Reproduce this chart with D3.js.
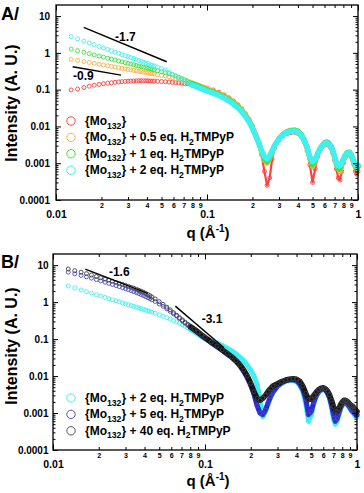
<!DOCTYPE html>
<html>
<head>
<meta charset="utf-8">
<script src="https://cdn.jsdelivr.net/npm/d3@7"></script>
<style>
body { margin: 0; background: #fff; }
text { font-family: "Liberation Sans", Arial, Helvetica, sans-serif; font-weight: bold; }
</style>
</head>
<body>
<div id="chart"></div>
<script>
var width = 364;
var height = 493;

// q grid (1/A), same for both panels
var q = [0.0126, 0.0139, 0.0153, 0.0166, 0.0179, 0.0193, 0.0206, 0.0220, 0.0233, 0.0246,
  0.0260, 0.0273, 0.0287, 0.0300, 0.0313, 0.0327, 0.0340, 0.0354, 0.0367, 0.0380,
  0.0394, 0.0407, 0.0421, 0.0434, 0.0447,
  0.047, 0.050, 0.053, 0.056, 0.059, 0.062, 0.065, 0.068, 0.071, 0.074, 0.077, 0.080,
  0.085, 0.090, 0.095,
  0.10, 0.11, 0.12, 0.13, 0.14, 0.15, 0.16, 0.17, 0.18, 0.19, 0.20, 0.21, 0.22, 0.23, 0.24, 0.25, 0.26, 0.27, 0.28,
  0.30, 0.32, 0.34, 0.36, 0.38, 0.40, 0.42, 0.44, 0.46, 0.48, 0.50, 0.52, 0.54, 0.56, 0.58, 0.60,
  0.62, 0.64, 0.66, 0.68, 0.70, 0.72, 0.74, 0.76, 0.78, 0.80, 0.82, 0.84, 0.86, 0.88, 0.90,
  0.92, 0.94, 0.96, 0.98, 1.00];

// panel A
var mo132 = [0.098, 0.104, 0.114, 0.124, 0.132, 0.139, 0.145, 0.150, 0.154, 0.158,
  0.162, 0.165, 0.167, 0.169, 0.171, 0.172, 0.173, 0.174, 0.174, 0.174,
  0.174, 0.173, 0.172, 0.171, 0.170,
  0.168, 0.166, 0.164, 0.161, 0.158, 0.155, 0.152, 0.150, 0.148, 0.146, 0.143, 0.139,
  0.132, 0.124, 0.117,
  0.110, 0.098, 0.085, 0.072, 0.060, 0.049, 0.039, 0.030, 0.022, 0.0156, 0.0103, 0.0062, 0.0037, 0.0017, 0.0006, 0.00025, 0.0004, 0.0013, 0.0026,
  0.0043, 0.0056, 0.0064, 0.0068, 0.0069, 0.0064, 0.0053, 0.0038, 0.0022, 0.0009, 0.0003, 0.0007, 0.0015, 0.0022, 0.0028, 0.0031,
  0.0033, 0.0031, 0.0026, 0.0019, 0.0012, 0.0007, 0.0004, 0.00035, 0.0006, 0.0010, 0.0014, 0.0016, 0.0017, 0.0017, 0.0015,
  0.0012, 0.0009, 0.0006, 0.0005, 0.0006];
var mo132Half = [0.670, 0.623, 0.581, 0.548, 0.519, 0.491, 0.468, 0.446, 0.428, 0.411,
  0.395, 0.381, 0.367, 0.356, 0.345, 0.334, 0.325, 0.315, 0.307, 0.299,
  0.292, 0.285, 0.278, 0.272, 0.266,
  0.256, 0.245, 0.235, 0.224, 0.213, 0.202, 0.192, 0.182, 0.172, 0.163, 0.155, 0.147,
  0.135, 0.124, 0.114,
  0.105, 0.092, 0.080, 0.068, 0.057, 0.046, 0.037, 0.028, 0.021, 0.0147, 0.0097, 0.0060, 0.0037, 0.0020, 0.0012, 0.0010, 0.0013, 0.0020, 0.0029,
  0.0045, 0.0059, 0.0068, 0.0073, 0.0074, 0.0069, 0.0057, 0.0041, 0.0026, 0.0013, 0.0008, 0.0011, 0.0017, 0.0023, 0.0029, 0.0033,
  0.0035, 0.0033, 0.0028, 0.0021, 0.0014, 0.0009, 0.0007, 0.0006, 0.0009, 0.0012, 0.0015, 0.0017, 0.0018, 0.0018, 0.0016,
  0.0013, 0.0010, 0.0008, 0.0007, 0.0008];
var mo132One = [1.27, 1.146, 1.038, 0.954, 0.883, 0.817, 0.764, 0.714, 0.673, 0.637,
  0.601, 0.572, 0.543, 0.519, 0.497, 0.475, 0.456, 0.438, 0.421, 0.407,
  0.392, 0.379, 0.366, 0.355, 0.344,
  0.327, 0.306, 0.289, 0.272, 0.254, 0.236, 0.218, 0.202, 0.187, 0.173, 0.161, 0.150,
  0.134, 0.121, 0.108,
  0.099, 0.087, 0.075, 0.064, 0.053, 0.043, 0.0345, 0.0265, 0.0196, 0.0138, 0.0091, 0.0057, 0.0036, 0.0021, 0.0013, 0.0011, 0.0014, 0.0021, 0.0030,
  0.0047, 0.0063, 0.0073, 0.0079, 0.0080, 0.0075, 0.0062, 0.0044, 0.0027, 0.0014, 0.0009, 0.0012, 0.0018, 0.0025, 0.0031, 0.0036,
  0.0038, 0.0036, 0.0030, 0.0023, 0.0015, 0.0010, 0.0007, 0.0007, 0.0010, 0.0013, 0.0016, 0.0019, 0.0020, 0.0020, 0.0018,
  0.0014, 0.0011, 0.0009, 0.0007, 0.0008];
var mo132Two = [2.77, 2.40, 2.09, 1.86, 1.67, 1.49, 1.36, 1.24, 1.14, 1.05,
  0.97, 0.90, 0.84, 0.79, 0.74, 0.70, 0.66, 0.62, 0.59, 0.56,
  0.53, 0.51, 0.48, 0.46, 0.44,
  0.41, 0.374, 0.34, 0.30, 0.265, 0.234, 0.207, 0.186, 0.168, 0.155, 0.144, 0.133,
  0.121, 0.110, 0.100,
  0.092, 0.080, 0.069, 0.059, 0.049, 0.040, 0.032, 0.025, 0.0185, 0.0132, 0.0089, 0.0056, 0.0036, 0.0022, 0.0015, 0.0013, 0.0016, 0.0022, 0.0030,
  0.0046, 0.0060, 0.0069, 0.0074, 0.0075, 0.0070, 0.0058, 0.0042, 0.0027, 0.0015, 0.0011, 0.0013, 0.0018, 0.0024, 0.0030, 0.0034,
  0.0036, 0.0034, 0.0029, 0.0022, 0.0015, 0.0010, 0.00085, 0.00085, 0.0010, 0.0013, 0.0016, 0.0018, 0.0019, 0.0019, 0.0017,
  0.0014, 0.0011, 0.0009, 0.0008, 0.0009];

// panel B
var mo132TwoB = [2.73, 2.41, 2.13, 1.92, 1.74, 1.58, 1.455, 1.34, 1.245, 1.16,
  1.08, 1.015, 0.952, 0.90, 0.852, 0.806, 0.766, 0.728, 0.695, 0.665,
  0.635, 0.609, 0.582, 0.557, 0.535,
  0.498, 0.454, 0.414, 0.378, 0.347, 0.318, 0.292, 0.267, 0.244, 0.223, 0.203, 0.185,
  0.158, 0.136, 0.117,
  0.102, 0.087, 0.078, 0.066, 0.056, 0.048, 0.040, 0.032, 0.026, 0.0195, 0.0145, 0.010, 0.006, 0.0025, 0.0008, 0.0011, 0.0017, 0.0026, 0.0036,
  0.0052, 0.0064, 0.0072, 0.0076, 0.0076, 0.0070, 0.0056, 0.0038, 0.0018, 0.0006, 0.0009, 0.0018, 0.0028, 0.0036, 0.0041, 0.0043,
  0.0040, 0.0033, 0.0024, 0.0014, 0.0007, 0.0005, 0.0006, 0.0009, 0.0013, 0.0016, 0.0018, 0.0018, 0.0017, 0.0015, 0.0013,
  0.0011, 0.0010, 0.0009, 0.0008, 0.0008];
var mo132Five = [6.46, 5.82, 5.27, 4.83, 4.45, 4.06, 3.74, 3.45, 3.21, 3.01,
  2.81, 2.63, 2.45, 2.31, 2.18, 2.04, 1.92, 1.80, 1.70, 1.60,
  1.50, 1.41, 1.32, 1.24, 1.16,
  1.04, 0.89, 0.77, 0.66, 0.56, 0.48, 0.42, 0.36, 0.31, 0.27, 0.24, 0.21,
  0.176, 0.148, 0.124,
  0.106, 0.079, 0.062, 0.049, 0.039, 0.032, 0.025, 0.0187, 0.0132, 0.0089, 0.0056, 0.0032, 0.0016, 0.0010, 0.0009, 0.0012, 0.0019, 0.0028, 0.0037,
  0.0054, 0.0066, 0.0075, 0.0079, 0.0079, 0.0074, 0.0061, 0.0043, 0.0024, 0.0009, 0.0011, 0.0020, 0.0030, 0.0038, 0.0043, 0.0045,
  0.0042, 0.0035, 0.0026, 0.0016, 0.0009, 0.0006, 0.0007, 0.0010, 0.0014, 0.0017, 0.0019, 0.0019, 0.0018, 0.0016, 0.0014,
  0.0012, 0.0011, 0.0010, 0.0009, 0.0009];
var mo132Forty = [7.85, 7.08, 6.43, 5.89, 5.41, 4.93, 4.55, 4.20, 3.92, 3.66,
  3.42, 3.21, 3.01, 2.83, 2.67, 2.51, 2.37, 2.22, 2.09, 1.97,
  1.84, 1.72, 1.60, 1.49, 1.38,
  1.22, 1.03, 0.87, 0.73, 0.62, 0.52, 0.44, 0.38, 0.33, 0.285, 0.25, 0.22,
  0.184, 0.155, 0.13,
  0.111, 0.083, 0.065, 0.051, 0.041, 0.033, 0.026, 0.020, 0.0145, 0.010, 0.0063, 0.0038, 0.0025, 0.0022, 0.0025, 0.0030, 0.0038, 0.0046, 0.0054,
  0.0062, 0.0071, 0.0078, 0.0082, 0.0084, 0.0082, 0.0072, 0.0054, 0.0034, 0.0023, 0.0024, 0.0030, 0.0037, 0.0043, 0.0047, 0.0048,
  0.0045, 0.0039, 0.0031, 0.0022, 0.0015, 0.0011, 0.0011, 0.0013, 0.0017, 0.0020, 0.0022, 0.0022, 0.0021, 0.0019, 0.0017,
  0.0016, 0.0015, 0.0013, 0.0012, 0.0011];

var legendA = ['{Mo_132}', '{Mo_132} + 0.5 eq. H_2TMPyP', '{Mo_132} + 1 eq. H_2TMPyP', '{Mo_132} + 2 eq. H_2TMPyP'];
var legendB = ['{Mo_132} + 2 eq. H_2TMPyP', '{Mo_132} + 5 eq. H_2TMPyP', '{Mo_132} + 40 eq. H_2TMPyP'];

var yTicks = [0.0001, 0.001, 0.01, 0.1, 1, 10];
var yTickLabels = ['0.0001', '0.001', '0.01', '0.1', '1', '10'];
var xMajor = [0.01, 0.1, 1];
var xMajorLabels = ['0.01', '0.1', '1'];
var minorDigits = [2, 3, 4, 5, 6, 7, 8, 9];

// slope guides, in data units
var slopesA = [
  {label: '-1.7', q1: 0.01526, i1: 4.93, q2: 0.0541, i2: 0.573, lq: 0.0246, li: 2.13},
  {label: '-0.9', q1: 0.0129, i1: 0.419, q2: 0.02694, i2: 0.249, lq: 0.01296, li: 0.182}
];
var slopesB = [
  {label: '-1.6', q1: 0.01631, i1: 7.8, q2: 0.04198, i2: 1.72, lq: 0.02333, li: 5.05},
  {label: '-3.1', q1: 0.0638, i1: 0.78, q2: 0.1334, i2: 0.0582, lq: 0.0951, li: 0.27}
];

var panels = [
  {name: 'A/', nameY: 20, left: 56, right: 358, top: 5, bottom: 200, yPad: 6,
   series: [
     {v: mo132, c: '#ff4040', band: '#ff4040', w: 2.2},
     {v: mo132Half, c: '#ffb040', band: '#ffb040', w: 5},
     {v: mo132One, c: '#40e040', band: '#40e040', w: 5},
     {v: mo132Two, c: '#40f0f0', band: '#40f0f0', w: 5.5}
   ],
   legend: legendA, legendColors: ['#ff4040', '#ffb040', '#40e040', '#40f0f0'], legendY: 121,
   slopes: slopesA, titleY: 103, xTitleY: 238},
  {name: 'B/', nameY: 268, left: 53, right: 357, top: 254, bottom: 450, yPad: 4.5,
   series: [
     {v: mo132TwoB, c: '#40f0f0', band: '#40f0f0', w: 5},
     {v: mo132Five, c: '#4848c0', band: '#2a2ad0', w: 5},
     {v: mo132Forty, c: '#404048', band: '#151515', w: 5.5}
   ],
   legend: legendB, legendColors: ['#40f0f0', '#5555b8', '#55555f'], legendY: 398,
   slopes: slopesB, titleY: 346, xTitleY: 486}
];

var svg = d3.select('#chart')
    .append('svg')
    .attr('width', width)
    .attr('height', height);

// text with _123 subscripts
function richText(sel, str, size) {
  var parts = str.split(/_(\d+)/);
  var low = false;
  parts.forEach(function(t, i) {
    if (i % 2) {
      sel.append('tspan').attr('font-size', size * 0.72).attr('dy', size * 0.3).text(t);
      low = true;
    } else if (t) {
      sel.append('tspan').attr('dy', low ? -size * 0.3 : 0).text(t);
      low = false;
    }
  });
}

function styleAxis(g) {
  g.select('.domain').remove();
  g.selectAll('.tick line').attr('stroke', '#000').attr('stroke-width', 1);
  g.attr('font-family', null).attr('font-size', null);
}

panels.forEach(function(p) {
  var x = d3.scaleLog().domain([0.01, 1]).range([p.left, p.right]);
  var y = d3.scaleLog().domain([0.0001, 20]).range([p.bottom, p.top]);
  var g = svg.append('g');

  var xMinor = [];
  [0.01, 0.1].forEach(function(d) {
    minorDigits.forEach(function(k) { xMinor.push(d * k); });
  });
  var yMinor = [];
  yTicks.forEach(function(d) {
    minorDigits.forEach(function(k) { if (d * k < 20) yMinor.push(d * k); });
  });

  // data
  p.series.forEach(function(s) {
    var pts = q.map(function(d, i) { return [d, s.v[i]]; });
    g.append('path')
        .datum(pts.filter(function(d) { return d[0] >= 0.08; }))
        .attr('d', d3.line().x(function(d) { return x(d[0]); }).y(function(d) { return y(d[1]); }))
        .attr('fill', 'none')
        .attr('stroke', s.band)
        .attr('stroke-width', s.w)
        .attr('stroke-linejoin', 'round')
        .attr('stroke-linecap', 'round');
    g.append('g').selectAll('circle')
        .data(pts)
        .enter()
        .append('circle')
        .attr('cx', function(d) { return x(d[0]); })
        .attr('cy', function(d) { return y(d[1]); })
        .attr('r', 2)
        .attr('fill', 'none')
        .attr('stroke', s.c)
        .attr('stroke-width', 0.9);
  });

  // frame
  g.append('rect')
      .attr('x', p.left).attr('y', p.top)
      .attr('width', p.right - p.left).attr('height', p.bottom - p.top)
      .attr('fill', 'none').attr('stroke', '#000').attr('stroke-width', 1.3);

  // bottom axis
  g.append('g').attr('transform', 'translate(0,' + p.bottom + ')')
      .call(d3.axisBottom(x).tickValues(xMinor).tickSize(-3).tickSizeOuter(0).tickPadding(3)
        .tickFormat(function(d, i) { return minorDigits[i % 8]; }))
      .call(styleAxis)
      .selectAll('text').attr('font-size', 7);
  g.append('g').attr('transform', 'translate(0,' + p.bottom + ')')
      .call(d3.axisBottom(x).tickValues(xMajor).tickSize(-5.5).tickSizeOuter(0).tickPadding(10.5)
        .tickFormat(function(d, i) { return xMajorLabels[i]; }))
      .call(styleAxis)
      .selectAll('text').attr('font-size', 10.5);
  // top axis
  g.append('g').attr('transform', 'translate(0,' + p.top + ')')
      .call(d3.axisTop(x).tickValues(xMinor).tickSize(-3).tickSizeOuter(0).tickFormat(''))
      .call(styleAxis);
  g.append('g').attr('transform', 'translate(0,' + p.top + ')')
      .call(d3.axisTop(x).tickValues(xMajor).tickSize(-5.5).tickSizeOuter(0).tickFormat(''))
      .call(styleAxis);

  // left axis
  g.append('g').attr('transform', 'translate(' + p.left + ',0)')
      .call(d3.axisLeft(y).tickValues(yMinor).tickSize(-2.5).tickSizeOuter(0).tickFormat(''))
      .call(styleAxis);
  g.append('g').attr('transform', 'translate(' + p.left + ',0)')
      .call(d3.axisLeft(y).tickValues(yTicks).tickSize(-5).tickSizeOuter(0).tickPadding(p.yPad)
        .tickFormat(function(d, i) { return yTickLabels[i]; }))
      .call(styleAxis)
      .selectAll('text').attr('font-size', 10);
  // right axis
  g.append('g').attr('transform', 'translate(' + p.right + ',0)')
      .call(d3.axisRight(y).tickValues(yMinor).tickSize(-2.5).tickSizeOuter(0).tickFormat(''))
      .call(styleAxis);
  g.append('g').attr('transform', 'translate(' + p.right + ',0)')
      .call(d3.axisRight(y).tickValues(yTicks).tickSize(-5).tickSizeOuter(0).tickFormat(''))
      .call(styleAxis);

  // slope guides
  p.slopes.forEach(function(s) {
    g.append('line')
        .attr('x1', x(s.q1)).attr('y1', y(s.i1))
        .attr('x2', x(s.q2)).attr('y2', y(s.i2))
        .attr('stroke', '#000').attr('stroke-width', 1.4);
    g.append('text')
        .attr('x', x(s.lq)).attr('y', y(s.li))
        .attr('font-size', 12)
        .text(s.label);
  });

  // legend
  p.legend.forEach(function(t, i) {
    var ly = p.legendY + i * 16.4;
    g.append('circle')
        .attr('cx', 71).attr('cy', ly).attr('r', 4.2)
        .attr('fill', 'none').attr('stroke', p.legendColors[i]).attr('stroke-width', 1);
    var tx = g.append('text').attr('x', 85).attr('y', ly + 4).attr('font-size', 12);
    richText(tx, t, 12);
  });

  // titles
  g.append('text')
      .attr('transform', 'translate(11,' + p.titleY + ') rotate(-90)')
      .attr('text-anchor', 'middle')
      .attr('dy', '0.35em')
      .attr('font-size', 16)
      .text('Intensity (A. U.)');
  var xt = g.append('text')
      .attr('x', 208).attr('y', p.xTitleY)
      .attr('text-anchor', 'middle')
      .attr('font-size', 15);
  xt.append('tspan').text('q (\u00C5');
  xt.append('tspan').attr('font-size', 10).attr('dy', -6).text('-1');
  xt.append('tspan').attr('dy', 6).text(')');

  g.append('text')
      .attr('x', 1).attr('y', p.nameY)
      .attr('font-size', 18)
      .text(p.name);
});
</script>
</body>
</html>
